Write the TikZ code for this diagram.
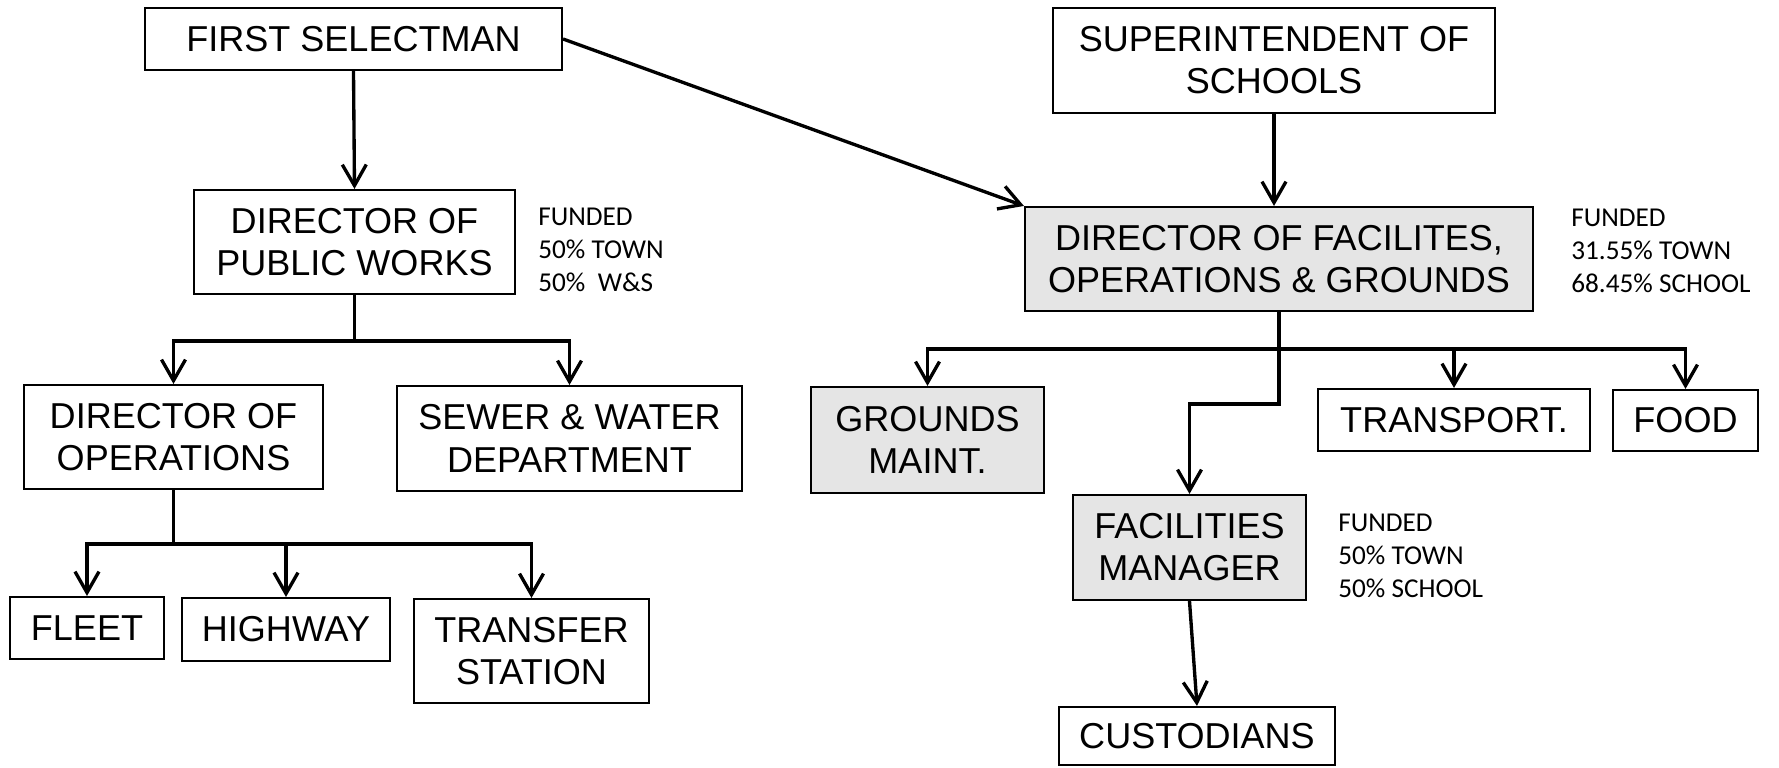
\documentclass[tikz,border=0pt]{standalone}
\usepackage{fontspec}
\setmainfont{Liberation Sans}
\newfontfamily\notefont{Carlito}
\usepackage{tikz}
\usetikzlibrary{arrows.meta, positioning}
\tikzset{
  unitbox/.style={
    draw, rectangle, line width=1.2pt, inner sep=2pt,
    align=center, font=\fontsize{20.5}{24}\selectfont
  },
  shadedbox/.style={
    unitbox, fill=black!10
  },
  fundnote/.style={
    anchor=west, inner sep=0pt, align=left,
    font=\notefont\fontsize{15.5}{18.8}\selectfont
  },
  arrow/.style={
    -{Straight Barb[length=4.2mm, width=4.8mm]}, line width=1.9pt
  },
  link/.style={
    line width=1.9pt
  }
}

\begin{document}
\begin{tikzpicture}
    \useasboundingbox (0,0) rectangle (35.58,-15.36);

    % top row
    \node[unitbox, minimum width=8.34cm, minimum height=1.24cm] (selectman) at (7.07,-0.78) {FIRST SELECTMAN};
    \node[unitbox, minimum width=8.84cm, minimum height=2.10cm] (super) at (25.48,-1.21) {SUPERINTENDENT OF\\SCHOOLS};

    % directors
    \node[unitbox, minimum width=6.42cm, minimum height=2.08cm] (pubworks) at (7.09,-4.84) {DIRECTOR OF\\PUBLIC WORKS};
    \node[shadedbox, minimum width=10.16cm, minimum height=2.08cm] (facdir) at (25.58,-5.18) {DIRECTOR OF FACILITES,\\OPERATIONS \& GROUNDS};
    \node[fundnote] (fundpw) at (10.76,-5.00) {FUNDED\\50\% TOWN\\50\%\ \ W\&S};
    \node[fundnote] (fundfac) at (31.42,-5.02) {FUNDED\\31.55\% TOWN\\68.45\% SCHOOL};

    % third row
    \node[unitbox, minimum width=5.98cm, minimum height=2.08cm] (operations) at (3.47,-8.74) {DIRECTOR OF\\OPERATIONS};
    \node[unitbox, minimum width=6.90cm, minimum height=2.10cm] (sewer) at (11.39,-8.77) {SEWER \& WATER\\DEPARTMENT};
    \node[shadedbox, minimum width=4.66cm, minimum height=2.12cm] (grounds) at (18.55,-8.80) {GROUNDS\\MAINT.};
    \node[unitbox, minimum width=5.44cm, minimum height=1.24cm] (transport) at (29.08,-8.40) {TRANSPORT.};
    \node[unitbox, minimum width=2.90cm, minimum height=1.22cm] (food) at (33.71,-8.41) {FOOD};
    \node[shadedbox, minimum width=4.66cm, minimum height=2.10cm] (facman) at (23.79,-10.95) {FACILITIES\\MANAGER};
    \node[fundnote] (fundman) at (26.76,-11.11) {FUNDED\\50\% TOWN\\50\% SCHOOL};

    % bottom row
    \node[unitbox, minimum width=3.08cm, minimum height=1.24cm] (fleet) at (1.74,-12.56) {FLEET};
    \node[unitbox, minimum width=4.16cm, minimum height=1.26cm] (highway) at (5.72,-12.59) {HIGHWAY};
    \node[unitbox, minimum width=4.70cm, minimum height=2.08cm] (transfer) at (10.63,-13.02) {TRANSFER\\STATION};
    \node[unitbox, minimum width=5.52cm, minimum height=1.16cm] (custodians) at (23.94,-14.72) {CUSTODIANS};

    % junction points
    \path (pubworks.south) ++(0,-0.92) coordinate (pwbar);
    \path (operations.south) ++(0,-1.08) coordinate (opbar);
    \path (facdir.south) ++(0,-0.74) coordinate (facbar);

    % connectors
    \draw[arrow] (selectman.south) -- (pubworks.north);
    \draw[arrow] (selectman.east) -- (facdir.north west);
    \draw[arrow] (super.south) -- (super.south |- facdir.north);

    \draw[link] (pubworks.south) -- (pwbar);
    \draw[arrow] (pwbar) -| (operations.north);
    \draw[arrow] (pwbar) -| (sewer.north);

    \draw[link] (operations.south) -- (opbar);
    \draw[arrow] (opbar) -| (fleet.north);
    \draw[arrow] (opbar) -| (highway.north);
    \draw[arrow] (opbar) -| (transfer.north);

    \draw[link] (facdir.south) -- (facbar);
    \draw[arrow] (facbar) -| (grounds.north);
    \draw[arrow] (facbar) -| (transport.north);
    \draw[arrow] (facbar) -| (food.north);
    \draw[arrow] (facbar) -- ++(0,-1.10) -| (facman.north);

    \draw[arrow] (facman.south) -- (custodians.north);
  \end{tikzpicture}
\end{document}
